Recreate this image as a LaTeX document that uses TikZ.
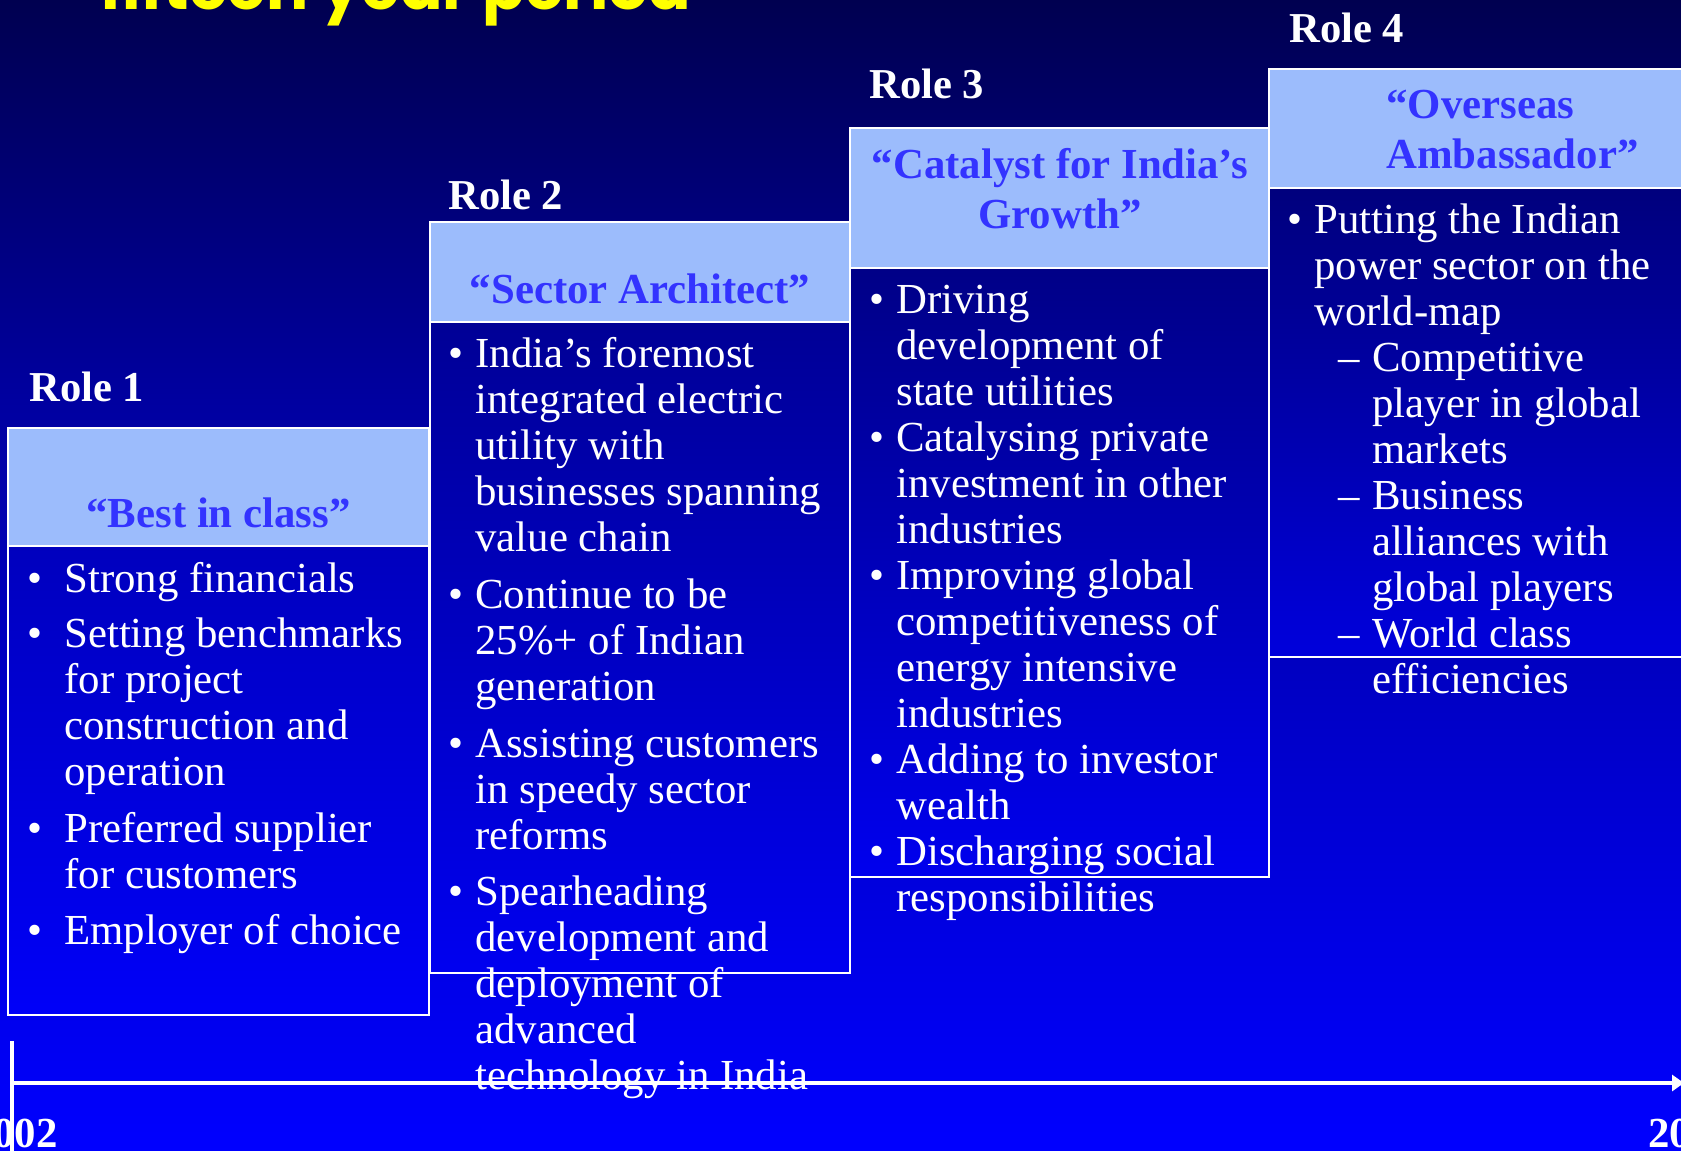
\documentclass[tikz,border=0pt]{standalone}
\usepackage{fontspec}
\setmainfont{Liberation Serif}
\newfontfamily\titlefont{Poppins}
\usetikzlibrary{arrows.meta}

\newcommand\bodysize{\fontsize{21.4}{23}\selectfont}
\newcommand\headsize{\bfseries\fontsize{21.4}{25}\selectfont}
\newcommand\itemdot[1]{\llap{\textbullet\hspace{#1}}}
\newcommand\itemdash{\llap{--\hspace{6.5pt}}}

\begin{document}
\begin{tikzpicture}[x=0.5pt,y=-0.5pt,
  rolelabel/.style={anchor=base west,inner sep=0pt,text=white,font=\bfseries\fontsize{21.3}{24}\selectfont},
  headlabel/.style={anchor=north,inner sep=0pt,yshift=17.5pt,align=center,text=headtext,font=\headsize},
  itemtext/.style={anchor=north west,inner sep=0pt,yshift=16.1pt,align=left,text=white,font=\bodysize},
  yearlabel/.style={inner sep=0pt,text=white,font=\headsize},
  boxline/.style={draw=white,line width=1pt},
  timeline/.style={draw=white,line width=1.6pt}]
  \definecolor{bgtop}{RGB}{0,0,80}
  \definecolor{bgmid}{RGB}{0,0,160}
  \definecolor{bgbot}{RGB}{0,0,255}
  \definecolor{headfill}{RGB}{156,188,252}
  \definecolor{headtext}{RGB}{51,51,255}
  \definecolor{titleyellow}{RGB}{255,255,0}
  \pgfdeclareverticalshading{backdrop}{100bp}{color(0bp)=(bgbot); color(25bp)=(bgbot); color(57.6bp)=(bgmid); color(75bp)=(bgtop); color(100bp)=(bgtop)}

  \useasboundingbox (0,0) rectangle (1681,1151);
  \clip (0,0) rectangle (1681,1151);
  \shade[shading=backdrop] (0,0) rectangle (1681,1151);

  %% slide title, only its foot is left inside the frame
  \node[anchor=base west,inner sep=0pt,text=titleyellow,font=\titlefont\bfseries\fontsize{31.3}{31}\selectfont] (title) at (100,10) {fifteen year period};

  %% four boxes climbing to the right: body, header band, white frames
  \shade[top color={rgb,255:red,0;green,0;blue,190},bottom color={rgb,255:red,0;green,0;blue,248}] (8,546) rectangle (429,1015);
  \shade[top color={rgb,255:red,0;green,0;blue,150},bottom color={rgb,255:red,0;green,0;blue,240}] (430,322) rectangle (850,973);
  \shade[top color={rgb,255:red,0;green,0;blue,135},bottom color={rgb,255:red,0;green,0;blue,238}] (850,268) rectangle (1269,877);
  \shade[top color={rgb,255:red,0;green,0;blue,125},bottom color={rgb,255:red,0;green,0;blue,220}] (1269,188) rectangle (1700,657);
  \fill[headfill] (8,428) rectangle (429,546);
  \fill[headfill] (430,222) rectangle (850,322);
  \fill[headfill] (850,128) rectangle (1269,268);
  \fill[headfill] (1269,69) rectangle (1700,188);
  \draw[boxline] (8,428) rectangle (429,546) (8,546) rectangle (429,1015);
  \draw[boxline] (430,222) rectangle (850,322) (430,322) rectangle (850,973);
  \draw[boxline] (850,128) rectangle (1269,268) (850,268) rectangle (1269,877);
  \draw[boxline] (1269,69) rectangle (1700,188) (1269,188) rectangle (1700,657);

  %% role labels above the boxes
  \node[rolelabel] (role1) at (29,401) {Role 1};
  \node[rolelabel] (role2) at (448,209) {Role 2};
  \node[rolelabel] (role3) at (869,98) {Role 3};
  \node[rolelabel] (role4) at (1289,42) {Role 4};

  %% header names
  \node[headlabel] (head1) at (218.5,527) {\strut“Best in class”};
  \node[headlabel] (head2) at (640,303) {\strut“Sector Architect”};
  \node[headlabel] (head3) at (1060,178) {\strut“Catalyst for India’s\\Growth”};
  \node[headlabel,anchor=north west,align=left] (head4) at (1386,118) {\strut“Overseas\\ Ambassador”};

  %% Role 1
  \node[itemtext] (item1a) at (64,592) {\strut\itemdot{10.85pt}Strong financials};
  \node[itemtext] (item1b) at (64,647) {\strut\itemdot{10.85pt}Setting benchmarks\\for project\\construction and\\operation};
  \node[itemtext] (item1c) at (64,842) {\strut\itemdot{10.85pt}Preferred supplier\\for customers};
  \node[itemtext] (item1d) at (64,944) {\strut\itemdot{10.85pt}Employer of choice};

  %% Role 2
  \node[itemtext] (item2a) at (475,367) {\strut\itemdot{5.8pt}India’s foremost\\integrated electric\\utility with\\businesses spanning\\value chain};
  \node[itemtext] (item2b) at (475,608) {\strut\itemdot{5.8pt}Continue to be\\25\%+ of Indian\\generation};
  \node[itemtext] (item2c) at (475,757) {\strut\itemdot{5.8pt}Assisting customers\\in speedy sector\\reforms};
  \node[itemtext] (item2d) at (475,905) {\strut\itemdot{5.8pt}Spearheading\\development and\\deployment of\\advanced\\technology in India};

  %% Role 3
  \node[itemtext] (item3a) at (896,313) {\strut\itemdot{5.8pt}Driving\\development of\\state utilities};
  \node[itemtext] (item3b) at (896,451) {\strut\itemdot{5.8pt}Catalysing private\\investment in other\\industries};
  \node[itemtext] (item3c) at (896,589) {\strut\itemdot{5.8pt}Improving global\\competitiveness of\\energy intensive\\industries};
  \node[itemtext] (item3d) at (896,773) {\strut\itemdot{5.8pt}Adding to investor\\wealth};
  \node[itemtext] (item3e) at (896,865) {\strut\itemdot{5.8pt}Discharging social\\responsibilities};

  %% Role 4
  \node[itemtext] (item4a) at (1314,233) {\strut\itemdot{5.8pt}Putting the Indian\\power sector on the\\world-map};
  \node[itemtext] (sub4a) at (1372,371) {\strut\itemdash Competitive\\player in global\\markets};
  \node[itemtext] (sub4b) at (1372,509) {\strut\itemdash Business\\alliances with\\global players};
  \node[itemtext] (sub4c) at (1372,647) {\strut\itemdash World class\\efficiencies};

  %% time axis
  \coordinate (ticktop) at (12,1041);
  \coordinate (tickfoot) at (12,1160);
  \coordinate (axisstart) at (12,1083);
  \coordinate (axisend) at (1684,1083);
  \draw[timeline] (ticktop) -- (tickfoot);
  \draw[timeline,-{Triangle[length=6pt,width=8pt]}] (axisstart) -- (axisend);
  \node[yearlabel,anchor=base east] (yearstart) at (58,1147) {2002};
  \node[yearlabel,anchor=base west] (yearend) at (1648,1147) {20};
\end{tikzpicture}
\end{document}
